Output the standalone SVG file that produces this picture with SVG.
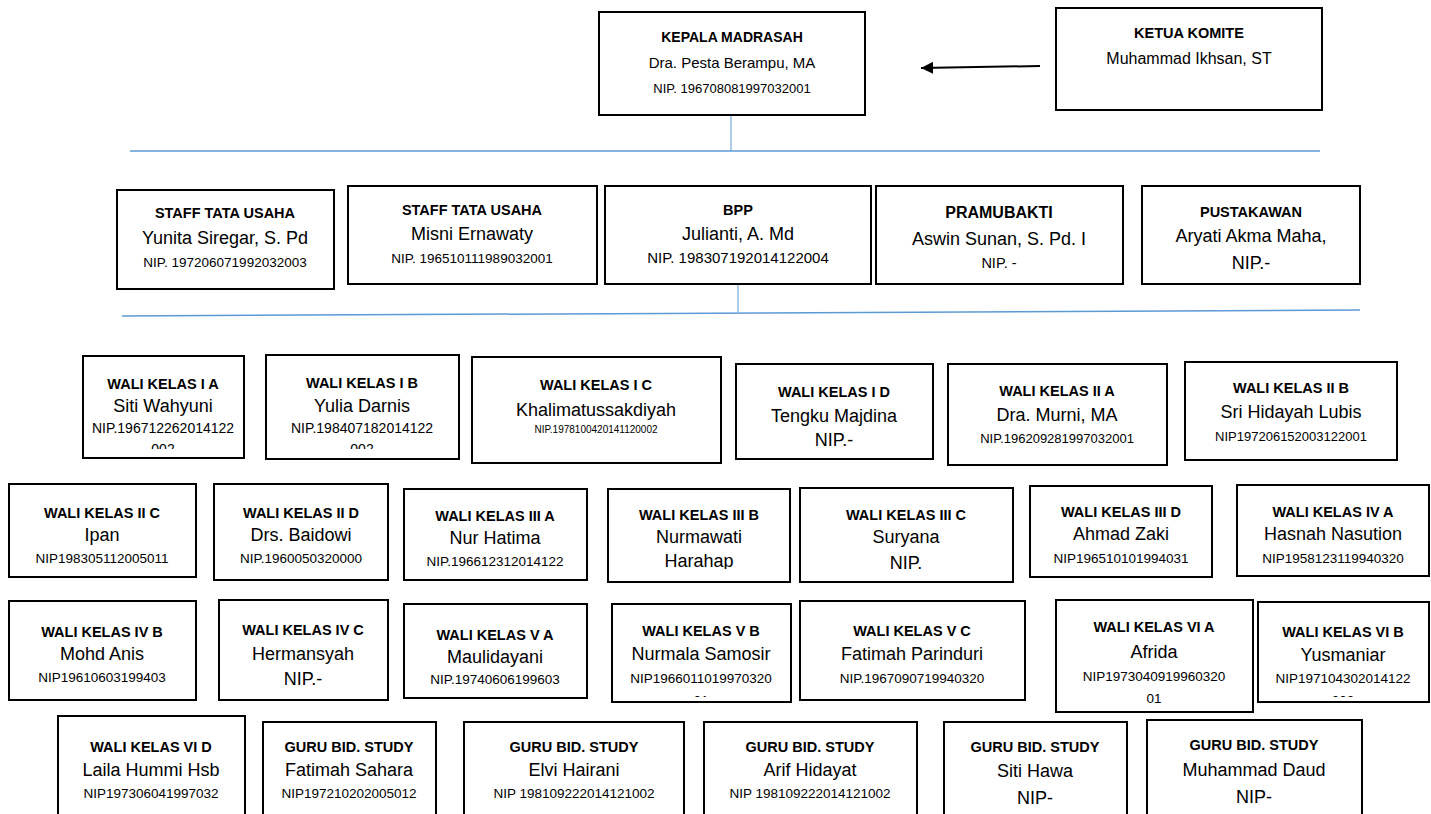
<svg xmlns="http://www.w3.org/2000/svg" width="1431" height="814" viewBox="0 0 1431 814">
<style>
.box{fill:#fff;stroke:#000;stroke-width:2}
text{font-family:"Liberation Sans",Arial,sans-serif;text-anchor:middle;fill:#000}
.t{font-weight:bold;font-size:14.5px}
.n{font-size:18px}
.s{font-size:13.5px}
.blue{stroke:#5B9BD5;fill:none}
</style>
<defs>
<marker id="ah" viewBox="0 0 10 10" refX="10" refY="5" markerWidth="6" markerHeight="6" orient="auto" markerUnits="strokeWidth">
<path d="M0,0 L10,5 L0,10 z" fill="#000"/>
</marker>
<clipPath id="c-ia"><rect x="83" y="356" width="161" height="93"/></clipPath>
<clipPath id="c-ib"><rect x="266" y="355" width="193" height="94"/></clipPath>
<clipPath id="c-iiib"><rect x="608" y="489" width="182" height="80"/></clipPath>
<clipPath id="c-vb"><rect x="612" y="604" width="179" height="93"/></clipPath>
<clipPath id="c-vib"><rect x="1258" y="602" width="170" height="95"/></clipPath>
</defs>

<g id="connectors">
<line class="blue" x1="731" y1="115" x2="731" y2="151" stroke-width="1"/>
<line class="blue" x1="130" y1="151" x2="1320" y2="151" stroke-width="1.5"/>
<line class="blue" x1="738" y1="284" x2="738" y2="312" stroke-width="1"/>
<line class="blue" x1="122" y1="316" x2="1360" y2="310" stroke-width="1.5"/>
<line x1="1040" y1="66" x2="921" y2="68" stroke="#000" stroke-width="2" marker-end="url(#ah)"/>
</g>

<g id="kepala-madrasah">
<rect class="box" x="599" y="12" width="266" height="103"/>
<text class="t" x="732" y="42" style="font-size:14px">KEPALA MADRASAH</text>
<text class="n" x="732" y="68" style="font-size:15px">Dra. Pesta Berampu, MA</text>
<text class="s" x="732" y="93" style="font-size:13px">NIP. 196708081997032001</text>
</g>
<g id="ketua-komite">
<rect class="box" x="1056" y="8" width="266" height="102"/>
<text class="t" x="1189" y="38" style="font-size:14.5px">KETUA KOMITE</text>
<text class="n" x="1189" y="64" style="font-size:16px">Muhammad Ikhsan, ST</text>
</g>

<g id="staff-tu-1">
<rect class="box" x="117" y="190" width="217" height="99"/>
<text class="t" x="225" y="218">STAFF TATA USAHA</text>
<text class="n" x="225" y="244">Yunita Siregar, S. Pd</text>
<text class="s" x="225" y="267">NIP. 197206071992032003</text>
</g>
<g id="staff-tu-2">
<rect class="box" x="348" y="186" width="249" height="98"/>
<text class="t" x="472" y="215">STAFF TATA USAHA</text>
<text class="n" x="472" y="240">Misni Ernawaty</text>
<text class="s" x="472" y="263">NIP. 196510111989032001</text>
</g>
<g id="bpp">
<rect class="box" x="605" y="186" width="266" height="98"/>
<text class="t" x="738" y="215">BPP</text>
<text class="n" x="738" y="240">Julianti, A. Md</text>
<text class="s" x="738" y="263" style="font-size:15px">NIP. 198307192014122004</text>
</g>
<g id="pramubakti">
<rect class="box" x="876" y="186" width="247" height="98"/>
<text class="t" x="999" y="218" style="font-size:16px">PRAMUBAKTI</text>
<text class="n" x="999" y="245">Aswin Sunan, S. Pd. I</text>
<text class="s" x="999" y="268" style="font-size:14.5px">NIP. -</text>
</g>
<g id="pustakawan">
<rect class="box" x="1142" y="186" width="218" height="98"/>
<text class="t" x="1251" y="217">PUSTAKAWAN</text>
<text class="n" x="1251" y="242">Aryati Akma Maha,</text>
<text class="n" x="1251" y="269">NIP.-</text>
</g>

<g id="wali-1a">
<rect class="box" x="83" y="356" width="161" height="102"/>
<g clip-path="url(#c-ia)">
<text class="t" x="163" y="389">WALI KELAS I A</text>
<text class="n" x="163" y="412">Siti Wahyuni</text>
<text class="s" x="163" y="433" style="font-size:14px">NIP.196712262014122</text>
<text class="s" x="163" y="454" style="font-size:14px">002</text>
</g>
</g>
<g id="wali-1b">
<rect class="box" x="266" y="355" width="193" height="104"/>
<g clip-path="url(#c-ib)">
<text class="t" x="362" y="388">WALI KELAS I B</text>
<text class="n" x="362" y="412">Yulia Darnis</text>
<text class="s" x="362" y="433" style="font-size:14px">NIP.198407182014122</text>
<text class="s" x="362" y="454" style="font-size:14px">002</text>
</g>
</g>
<g id="wali-1c">
<rect class="box" x="472" y="357" width="249" height="106"/>
<text class="t" x="596" y="390">WALI KELAS I C</text>
<text class="n" x="596" y="416">Khalimatussakdiyah</text>
<text class="s" x="596" y="433" style="font-size:10px">NIP.1978100420141120002</text>
</g>
<g id="wali-1d">
<rect class="box" x="736" y="364" width="197" height="95"/>
<text class="t" x="834" y="397">WALI KELAS I D</text>
<text class="n" x="834" y="422">Tengku Majdina</text>
<text class="n" x="834" y="446">NIP.-</text>
</g>
<g id="wali-2a">
<rect class="box" x="948" y="364" width="219" height="101"/>
<text class="t" x="1057" y="396">WALI KELAS II A</text>
<text class="n" x="1057" y="421">Dra. Murni, MA</text>
<text class="s" x="1057" y="443" style="font-size:13px">NIP.196209281997032001</text>
</g>
<g id="wali-2b">
<rect class="box" x="1185" y="362" width="212" height="98"/>
<text class="t" x="1291" y="393">WALI KELAS II B</text>
<text class="n" x="1291" y="418">Sri Hidayah Lubis</text>
<text class="s" x="1291" y="441" style="font-size:13px">NIP197206152003122001</text>
</g>

<g id="wali-2c">
<rect class="box" x="9" y="484" width="187" height="93"/>
<text class="t" x="102" y="518">WALI KELAS II C</text>
<text class="n" x="102" y="541">Ipan</text>
<text class="s" x="102" y="563">NIP198305112005011</text>
</g>
<g id="wali-2d">
<rect class="box" x="214" y="484" width="174" height="96"/>
<text class="t" x="301" y="518">WALI KELAS II D</text>
<text class="n" x="301" y="541">Drs. Baidowi</text>
<text class="s" x="301" y="563">NIP.1960050320000</text>
</g>
<g id="wali-3a">
<rect class="box" x="404" y="489" width="183" height="91"/>
<text class="t" x="495" y="521">WALI KELAS III A</text>
<text class="n" x="495" y="544">Nur Hatima</text>
<text class="s" x="495" y="566">NIP.196612312014122</text>
</g>
<g id="wali-3b">
<rect class="box" x="608" y="489" width="182" height="93"/>
<g clip-path="url(#c-iiib)">
<text class="t" x="699" y="520">WALI KELAS III B</text>
<text class="n" x="699" y="543">Nurmawati</text>
<text class="n" x="699" y="567">Harahap</text>
</g>
</g>
<g id="wali-3c">
<rect class="box" x="800" y="488" width="213" height="94"/>
<text class="t" x="906" y="520">WALI KELAS III C</text>
<text class="n" x="906" y="543">Suryana</text>
<text class="n" x="906" y="569">NIP.</text>
</g>
<g id="wali-3d">
<rect class="box" x="1030" y="486" width="182" height="91"/>
<text class="t" x="1121" y="517">WALI KELAS III D</text>
<text class="n" x="1121" y="540">Ahmad Zaki</text>
<text class="s" x="1121" y="563">NIP196510101994031</text>
</g>
<g id="wali-4a">
<rect class="box" x="1237" y="485" width="192" height="91"/>
<text class="t" x="1333" y="517">WALI KELAS IV A</text>
<text class="n" x="1333" y="540">Hasnah Nasution</text>
<text class="s" x="1333" y="563">NIP1958123119940320</text>
</g>

<g id="wali-4b">
<rect class="box" x="9" y="601" width="187" height="99"/>
<text class="t" x="102" y="637">WALI KELAS IV B</text>
<text class="n" x="102" y="660">Mohd Anis</text>
<text class="s" x="102" y="682">NIP19610603199403</text>
</g>
<g id="wali-4c">
<rect class="box" x="219" y="600" width="169" height="100"/>
<text class="t" x="303" y="635">WALI KELAS IV C</text>
<text class="n" x="303" y="660">Hermansyah</text>
<text class="n" x="303" y="685">NIP.-</text>
</g>
<g id="wali-5a">
<rect class="box" x="404" y="604" width="183" height="94"/>
<text class="t" x="495" y="640">WALI KELAS V A</text>
<text class="n" x="495" y="663">Maulidayani</text>
<text class="s" x="495" y="684">NIP.19740606199603</text>
</g>
<g id="wali-5b">
<rect class="box" x="612" y="604" width="179" height="98"/>
<g clip-path="url(#c-vb)">
<text class="t" x="701" y="636">WALI KELAS V B</text>
<text class="n" x="701" y="660">Nurmala Samosir</text>
<text class="s" x="701" y="683">NIP1966011019970320</text>
<text class="s" x="701" y="705">01</text>
</g>
</g>
<g id="wali-5c">
<rect class="box" x="800" y="601" width="225" height="99"/>
<text class="t" x="912" y="636">WALI KELAS V C</text>
<text class="n" x="912" y="660">Fatimah Parinduri</text>
<text class="s" x="912" y="683">NIP.1967090719940320</text>
</g>
<g id="wali-6a">
<rect class="box" x="1056" y="600" width="197" height="112"/>
<text class="t" x="1154" y="632">WALI KELAS VI A</text>
<text class="n" x="1154" y="658">Afrida</text>
<text class="s" x="1154" y="681">NIP1973040919960320</text>
<text class="s" x="1154" y="703">01</text>
</g>
<g id="wali-6b">
<rect class="box" x="1258" y="602" width="171" height="100"/>
<g clip-path="url(#c-vib)">
<text class="t" x="1343" y="637">WALI KELAS VI B</text>
<text class="n" x="1343" y="661">Yusmaniar</text>
<text class="s" x="1343" y="683">NIP197104302014122</text>
<text class="s" x="1343" y="705">002</text>
</g>
</g>

<g id="wali-6d">
<rect class="box" x="58" y="716" width="187" height="104"/>
<text class="t" x="151" y="752">WALI KELAS VI D</text>
<text class="n" x="151" y="776">Laila Hummi Hsb</text>
<text class="s" x="151" y="798">NIP197306041997032</text>
</g>
<g id="guru-1">
<rect class="box" x="263" y="722" width="173" height="97"/>
<text class="t" x="349" y="752">GURU BID. STUDY</text>
<text class="n" x="349" y="776">Fatimah Sahara</text>
<text class="s" x="349" y="798">NIP197210202005012</text>
</g>
<g id="guru-2">
<rect class="box" x="464" y="722" width="220" height="97"/>
<text class="t" x="574" y="752">GURU BID. STUDY</text>
<text class="n" x="574" y="776">Elvi Hairani</text>
<text class="s" x="574" y="798">NIP 198109222014121002</text>
</g>
<g id="guru-3">
<rect class="box" x="704" y="722" width="213" height="97"/>
<text class="t" x="810" y="752">GURU BID. STUDY</text>
<text class="n" x="810" y="776">Arif Hidayat</text>
<text class="s" x="810" y="798">NIP 198109222014121002</text>
</g>
<g id="guru-4">
<rect class="box" x="944" y="722" width="183" height="97"/>
<text class="t" x="1035" y="752">GURU BID. STUDY</text>
<text class="n" x="1035" y="777">Siti Hawa</text>
<text class="n" x="1035" y="804">NIP-</text>
</g>
<g id="guru-5">
<rect class="box" x="1147" y="720" width="215" height="97"/>
<text class="t" x="1254" y="750">GURU BID. STUDY</text>
<text class="n" x="1254" y="776">Muhammad Daud</text>
<text class="n" x="1254" y="803">NIP-</text>
</g>
</svg>
